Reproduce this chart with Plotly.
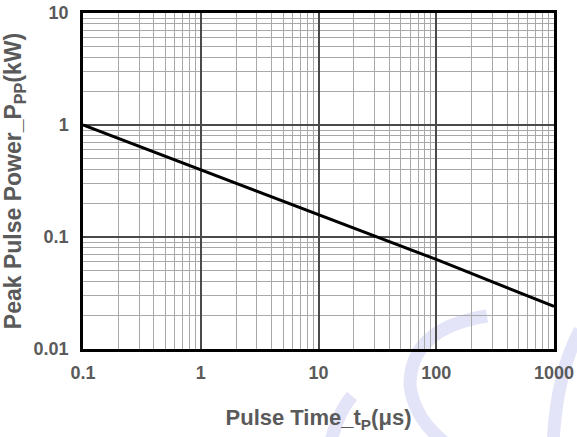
import plotly.graph_objects as go

pulse_time_us = [0.1, 1, 10, 100, 1000]
peak_power_kw = [1.0, 0.4, 0.16, 0.063, 0.024]
x_tick_vals = [0.1, 1, 10, 100, 1000]
x_tick_text = ["0.1", "1", "10", "100", "1000"]
y_tick_vals = [0.01, 0.1, 1, 10]
y_tick_text = ["0.01", "0.1", "1", "10"]


def minor_vals(decades):
    return [m * d for d in decades for m in range(2, 10)]


fig = go.Figure()
fig.add_trace(go.Scatter(x=pulse_time_us, y=peak_power_kw, mode="lines",
                         line=dict(color="black", width=3), showlegend=False))

font_fam = "Liberation Sans, Arial, sans-serif"
txt_col = "#5a5a5a"
axis_common = dict(
    type="log", showline=True, linecolor="black", linewidth=2.5, mirror=True,
    showgrid=True, gridcolor="#4a4a4a", gridwidth=1.5, automargin=False,
    ticks="", tickfont=dict(family=font_fam, size=18, color=txt_col, weight="bold"),
    zeroline=False,
)
fig.update_xaxes(**axis_common, range=[-1, 3], tickvals=x_tick_vals, ticktext=x_tick_text,
                 ticklabelstandoff=6,
                 minor=dict(showgrid=True, gridcolor="#a8a8a8", gridwidth=1, ticks="",
                            tickmode="array", tickvals=minor_vals([0.1, 1, 10, 100])),
                 title=dict(text="Pulse Time_t<sub>P</sub>(μs)", standoff=28,
                            font=dict(family=font_fam, size=22, color=txt_col, weight="bold")))
fig.update_yaxes(**axis_common, range=[-2, 1], tickvals=y_tick_vals, ticktext=y_tick_text,
                 ticklabelstandoff=8,
                 minor=dict(showgrid=True, gridcolor="#a8a8a8", gridwidth=1, ticks="",
                            tickmode="array", tickvals=minor_vals([0.01, 0.1, 1])),
                 title=dict(text="Peak Pulse Power_P<sub>PP</sub>(kW)", standoff=6,
                            font=dict(family=font_fam, size=23, color=txt_col, weight="bold")))

# faint watermark arcs (pixel positions converted to paper coordinates)
L, R, T, B = 83, 554, 13, 349


def px(x, y):
    return (x - L) / (R - L), (B - y) / (B - T)


def path(pts):
    (x0, y0), (cx1, cy1), (x1, y1) = [px(*p) for p in pts[:3]]
    s = f"M {x0} {y0} Q {cx1} {cy1} {x1} {y1}"
    if len(pts) > 3:
        (cx2, cy2), (x2, y2) = [px(*p) for p in pts[3:5]]
        s += f" Q {cx2} {cy2} {x2} {y2}"
    return s


wm = dict(type="path", xref="paper", yref="paper", layer="below",
          line=dict(color="#e4e4f8", width=13))
fig.add_shape(path=path([(487, 316), (410, 328), (410, 385), (414, 420), (448, 445)]), **wm)
fig.add_shape(path=path([(580, 330), (556, 375), (553, 445)]), **wm)
fig.add_shape(path=path([(352, 396), (338, 412), (330, 445)]), **wm)

fig.update_layout(width=577, height=437, margin=dict(l=83, r=23, t=13, b=88, autoexpand=False),
                  plot_bgcolor="rgba(0,0,0,0)", paper_bgcolor="white")
fig.write_html("out.html")
